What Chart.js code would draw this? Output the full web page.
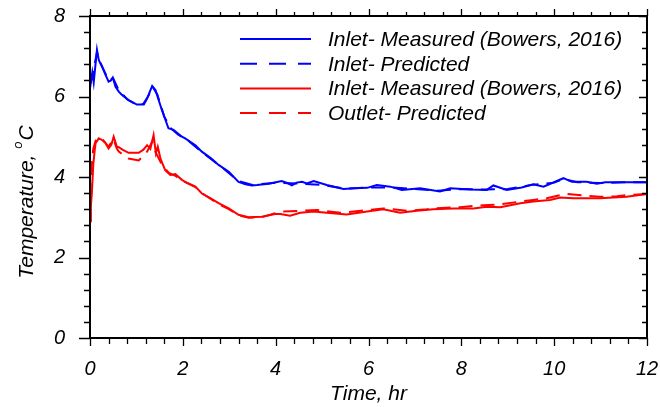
<!DOCTYPE html>
<html>
<head>
<meta charset="utf-8">
<script src="https://cdn.jsdelivr.net/npm/chart.js@4.4.1/dist/chart.umd.min.js"></script>
<style>
  html, body { margin:0; padding:0; background:#fff; }
  #wrap { width:660px; height:407px; }
</style>
</head>
<body>
<div id="wrap"><canvas id="chart" width="660" height="407"></canvas></div>
<script>
// --- data (time in hr, temperature in °C) ---
const xTicks = [0, 2, 4, 6, 8, 10, 12];
const yTicks = [0, 2, 4, 6, 8];

const seriesLabels = [
  'Inlet- Measured (Bowers, 2016)',
  'Inlet- Predicted',
  'Inlet- Measured (Bowers, 2016)',
  'Outlet- Predicted'
];

const inletMeasTime = [0, 0.03, 0.05, 0.08, 0.11, 0.15, 0.19, 0.26, 0.33, 0.40,
  0.45, 0.49, 0.55, 0.62, 0.69, 0.83, 1.01, 1.16, 1.23, 1.30,
  1.34, 1.41, 1.55, 1.69, 1.80, 1.98, 2.05, 2.27, 2.41, 2.60,
  2.77, 2.99, 3.20, 3.35, 3.49, 3.60, 3.85, 4.13, 4.25, 4.35,
  4.45, 4.57, 4.67, 4.82, 5.10, 5.46, 5.70, 5.97, 6.18, 6.47,
  6.72, 7.11, 7.54, 7.76, 8.20, 8.55, 8.69, 8.98, 9.30, 9.55,
  9.77, 10.20, 10.38, 10.70, 10.92, 11.10, 12];
const inletMeasTemp = [6.20, 6.45, 6.60, 6.35, 6.70, 7.16, 6.90, 6.74, 6.55, 6.37,
  6.40, 6.47, 6.24, 6.12, 6.04, 5.91, 5.80, 5.80, 5.95, 6.15,
  6.26, 6.16, 5.66, 5.21, 5.17, 5.00, 4.96, 4.79, 4.63, 4.47,
  4.30, 4.13, 3.88, 3.82, 3.79, 3.80, 3.83, 3.90, 3.85, 3.79,
  3.86, 3.88, 3.84, 3.90, 3.80, 3.70, 3.72, 3.73, 3.80, 3.76,
  3.68, 3.72, 3.64, 3.72, 3.69, 3.68, 3.79, 3.68, 3.74, 3.82,
  3.76, 3.97, 3.88, 3.88, 3.83, 3.87, 3.87];

const inletPredTime = [0, 0.05, 0.10, 0.15, 0.20, 0.30, 0.40, 0.50, 0.60, 0.80,
  1.00, 1.15, 1.25, 1.35, 1.45, 1.60, 1.75, 1.90, 2.10, 2.40,
  2.80, 3.20, 3.50, 4.00, 4.50, 5.00, 5.50, 6.00, 6.50, 7.00,
  7.50, 8.00, 8.50, 9.00, 9.50, 10.00, 10.20, 10.50, 11.00, 11.50, 12];
const inletPredTemp = [6.30, 6.50, 6.80, 7.10, 6.90, 6.65, 6.40, 6.45, 6.20, 5.93,
  5.80, 5.82, 6.00, 6.24, 6.05, 5.50, 5.20, 5.05, 4.92, 4.63,
  4.28, 3.90, 3.80, 3.86, 3.84, 3.80, 3.71, 3.74, 3.74, 3.70,
  3.66, 3.70, 3.69, 3.70, 3.80, 3.86, 3.95, 3.87, 3.85, 3.87, 3.87];

const outletMeasTime = [0, 0.02, 0.04, 0.07, 0.10, 0.12, 0.19, 0.26, 0.33, 0.40,
  0.46, 0.51, 0.58, 0.62, 0.70, 0.83, 1.05, 1.15, 1.23, 1.30,
  1.37, 1.42, 1.46, 1.52, 1.62, 1.73, 1.84, 1.98, 2.05, 2.27,
  2.41, 2.60, 2.77, 2.99, 3.20, 3.42, 3.70, 3.99, 4.10, 4.31,
  4.53, 4.82, 5.10, 5.53, 5.97, 6.32, 6.68, 7.04, 7.40, 7.83,
  8.26, 8.55, 8.84, 9.27, 9.55, 9.91, 10.13, 10.41, 10.99, 11.56, 12];
const outletMeasTemp = [2.90, 3.30, 3.60, 4.30, 4.65, 4.84, 4.96, 4.92, 4.85, 4.71,
  4.80, 5.00, 4.75, 4.74, 4.68, 4.60, 4.60, 4.68, 4.79, 4.70,
  5.04, 4.59, 4.75, 4.45, 4.17, 4.05, 4.07, 3.93, 3.88, 3.76,
  3.59, 3.47, 3.35, 3.22, 3.06, 3.00, 3.01, 3.08, 3.08, 3.04,
  3.11, 3.14, 3.11, 3.07, 3.14, 3.20, 3.11, 3.16, 3.20, 3.22,
  3.22, 3.26, 3.25, 3.35, 3.39, 3.43, 3.49, 3.47, 3.47, 3.51, 3.58];

const outletPredTime = [0, 0.03, 0.07, 0.12, 0.19, 0.26, 0.40, 0.50, 0.58, 0.62,
  0.83, 1.05, 1.23, 1.34, 1.42, 1.55, 1.70, 1.85, 2.00, 2.27,
  2.41, 2.77, 2.99, 3.20, 3.42, 3.70, 3.99, 4.10, 4.53, 4.89,
  5.39, 5.97, 6.32, 6.83, 7.26, 7.40, 7.97, 8.48, 8.84, 9.27,
  9.55, 9.84, 10.13, 10.27, 10.63, 10.99, 11.35, 11.56, 12];
const outletPredTemp = [3.50, 4.20, 4.70, 4.90, 4.98, 4.95, 4.75, 4.95, 4.70, 4.63,
  4.46, 4.41, 4.63, 4.88, 4.60, 4.30, 4.10, 4.02, 3.90, 3.75,
  3.60, 3.33, 3.20, 3.05, 2.99, 3.00, 3.10, 3.14, 3.16, 3.18,
  3.11, 3.18, 3.22, 3.16, 3.20, 3.22, 3.25, 3.30, 3.32, 3.39,
  3.43, 3.47, 3.55, 3.58, 3.54, 3.51, 3.52, 3.55, 3.58];

const FONT = '"Liberation Sans", Arial, sans-serif';
const BLUE = '#0000ff';
const RED  = '#ff0000';

function zip(xs, ys) {
  return xs.map((x, i) => ({ x, y: ys[i] }));
}

function lineSet(label, xs, ys, color, dash) {
  return {
    label,
    data: zip(xs, ys),
    borderColor: color,
    backgroundColor: color,
    borderWidth: 2,
    borderDash: dash,
    pointRadius: 0,
    tension: 0,
    fill: false
  };
}

// frame, inner/outer ticks, legend and y title with superscript
const decorPlugin = {
  id: 'decor',
  afterDraw(chart) {
    const { ctx, chartArea: a, scales: { x, y } } = chart;
    ctx.save();
    ctx.strokeStyle = '#000';
    ctx.lineWidth = 2;
    ctx.strokeRect(a.left, a.top, a.right - a.left, a.bottom - a.top);

    ctx.lineWidth = 1.3;
    ctx.beginPath();
    for (let i = 0; i <= 30; i++) {
      const v = i * 0.4;
      const px = Math.round(x.getPixelForValue(v)) + 0.5;
      const major = i % 5 === 0;
      ctx.moveTo(px, a.bottom); ctx.lineTo(px, a.bottom + (major ? 8 : 6));
      ctx.moveTo(px, a.top);    ctx.lineTo(px, a.top - (major ? 7 : 4));
    }
    for (let i = 0; i <= 20; i++) {
      const v = i * 0.4;
      const py = Math.round(y.getPixelForValue(v)) + 0.5;
      const major = i % 5 === 0;
      ctx.moveTo(a.left, py);  ctx.lineTo(a.left - (major ? 11 : 6), py);
      ctx.moveTo(a.right, py); ctx.lineTo(a.right - (major ? 8 : 5), py);
    }
    ctx.stroke();

    // legend
    ctx.font = 'italic 21px ' + FONT;
    ctx.textBaseline = 'middle';
    ctx.fillStyle = '#000';
    chart.data.datasets.forEach((ds, i) => {
      const ly = 39 + i * 24.7;
      ctx.strokeStyle = ds.borderColor;
      ctx.lineWidth = 2;
      ctx.setLineDash(ds.borderDash && ds.borderDash.length ? [17, 12] : []);
      ctx.beginPath();
      ctx.moveTo(240, ly); ctx.lineTo(311, ly);
      ctx.stroke();
      ctx.setLineDash([]);
      ctx.fillText(ds.label, 328, ly + 1);
    });

    // y title
    ctx.translate(27, 202);
    ctx.rotate(-Math.PI / 2);
    const main = 'Temperature, ';
    ctx.font = 'italic 21px ' + FONT;
    const w1 = ctx.measureText(main).width;
    const w3 = ctx.measureText('C').width;
    ctx.font = 'italic 13px ' + FONT;
    const w2 = ctx.measureText('o').width;
    const sx = -(w1 + w2 + w3 + 1) / 2;
    ctx.textAlign = 'left';
    ctx.font = 'italic 21px ' + FONT;
    ctx.fillText(main, sx, 0);
    ctx.font = 'italic 13px ' + FONT;
    ctx.fillText('o', sx + w1, -9);
    ctx.font = 'italic 21px ' + FONT;
    ctx.fillText('C', sx + w1 + w2 + 1, 0);
    ctx.restore();
  }
};

new Chart(document.getElementById('chart'), {
  type: 'line',
  data: {
    datasets: [
      lineSet(seriesLabels[0], inletMeasTime, inletMeasTemp, BLUE, []),
      lineSet(seriesLabels[1], inletPredTime, inletPredTemp, BLUE, [14, 8]),
      lineSet(seriesLabels[2], outletMeasTime, outletMeasTemp, RED, []),
      lineSet(seriesLabels[3], outletPredTime, outletPredTemp, RED, [14, 8])
    ]
  },
  options: {
    responsive: false,
    animation: false,
    layout: { padding: { left: 0, right: 13, top: 16, bottom: 0 } },
    plugins: { legend: { display: false }, tooltip: { enabled: false } },
    scales: {
      x: {
        type: 'linear', min: 0, max: 12,
        afterFit: s => { s.height = 69; s.paddingLeft = 0; s.paddingRight = 0; },
        afterBuildTicks: s => { s.ticks = xTicks.map(v => ({ value: v })); },
        grid: { display: false },
        border: { display: false },
        ticks: { color: '#000', padding: 11, maxRotation: 0,
          font: { family: FONT, size: 20, style: 'italic' } },
        title: { display: true, text: 'Time, hr', color: '#000', padding: { top: 0, bottom: 0 },
          font: { family: FONT, size: 21, style: 'italic' } }
      },
      y: {
        type: 'linear', min: 0, max: 8,
        afterFit: s => { s.width = 90; s.paddingTop = 0; s.paddingBottom = 0; },
        afterBuildTicks: s => { s.ticks = yTicks.map(v => ({ value: v })); },
        grid: { display: false },
        border: { display: false },
        ticks: { color: '#000', padding: 17,
          font: { family: FONT, size: 20, style: 'italic' } }
      }
    }
  },
  plugins: [decorPlugin]
});
</script>
</body>
</html>
